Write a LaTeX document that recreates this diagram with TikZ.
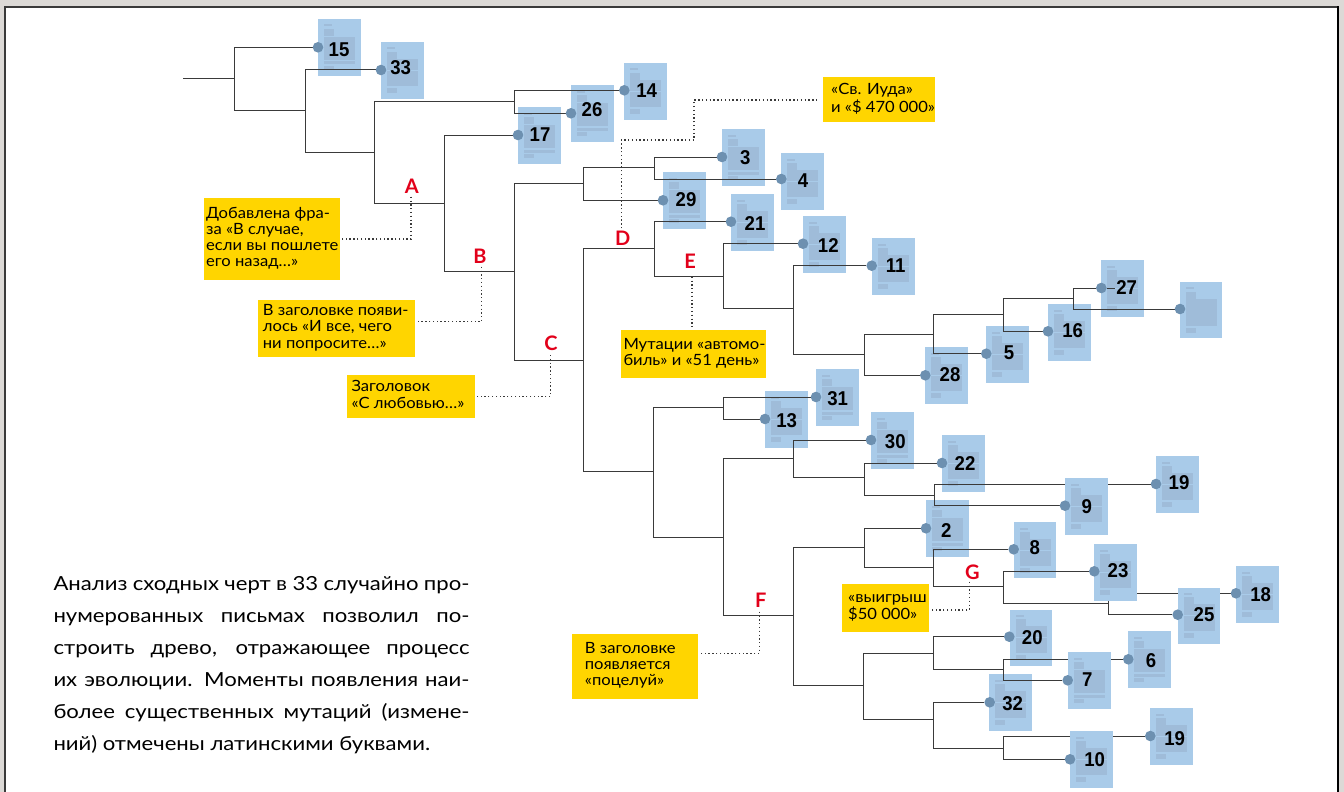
\documentclass[tikz,border=0pt]{standalone}
\usepackage{fontspec}
\setmainfont{Lato}
\newfontfamily\numfont{Liberation Sans}[BoldFont=* Bold,FakeStretch=0.93]
\newfontfamily\wide{Lato}[FakeStretch=1.14]
\newfontfamily\notewide{Lato}[FakeStretch=1.07]
\definecolor{pagebg}{HTML}{DCD9D6}
\definecolor{sheetc}{HTML}{A9CBE9}
\definecolor{innerc}{HTML}{9FBCD9}
\definecolor{dotc}{HTML}{6D90B0}
\definecolor{yell}{HTML}{FFD500}
\definecolor{redc}{HTML}{E2001A}
\definecolor{linec}{HTML}{3A3A3A}
\pgfdeclarelayer{backlayer}
\pgfdeclarelayer{sheets}
\pgfdeclarelayer{hiders}
\pgfdeclarelayer{toplayer}
\pgfsetlayers{backlayer,sheets,main,hiders,toplayer}
\def\sw{43}\def\sh{57}
\tikzset{
  sheet/.style={fill=sheetc,draw=none,inner sep=0,minimum width=\sw pt,minimum height=\sh pt,anchor=north west},
  inn/.style={fill=innerc,draw=none},
  dotn/.style={circle,fill=dotc,draw=none,inner sep=0,minimum size=10.6pt},
  num/.style={inner sep=0,font=\numfont\bfseries\fontsize{20}{20}\selectfont,text=black},
  mut/.style={inner sep=0,font=\bfseries\fontsize{20}{20}\selectfont,text=redc},
  ybox/.style={fill=yell,draw=none,anchor=north west,inner sep=0},
  branch/.style={draw=linec,line width=1pt},
  note/.style={draw=linec,line width=1.3pt,dash pattern=on 1.3pt off 2.5pt},
}
\newcommand\sheetA{%
  \fill[inn] (6,5.5) rectangle (14,7.5);
  \fill[inn] (6,10) rectangle (16,17);
  \fill[inn] (6,18) rectangle (37,41);
  \fill[inn] (6,42.5) rectangle (37,45.5);
  \fill[inn] (6,47) rectangle (16,51);}
\newcommand\sheetC{%
  \fill[inn] (6,5.5) rectangle (14,7.5);
  \fill[inn] (6,10) rectangle (16,17);
  \fill[inn] (6,17) rectangle (37,44);
  \fill[inn] (6,46) rectangle (16,51);}
\newcommand\sheetB{%
  \sheetC
  \fill[sheetc] (6,28) rectangle (37,28.6);}
% id, layer, x0, y0, inner, dot position, label, label position
\newcommand\lettersheet[8]{%
  \begin{pgfonlayer}{#2}
    \node[sheet] (doc#1) at (#3,#4) {};
    \begin{scope}[shift={(doc#1.north west)}]#5\end{scope}
  \end{pgfonlayer}
  \begin{pgfonlayer}{toplayer}
    \node[dotn] (dot#1) at #6 {};
    \if\relax\detokenize{#7}\relax\else\node[num] (num#1) at #8 {#7};\fi
  \end{pgfonlayer}}
% leading, indent, width, lines
\newcommand\notetext[4]{\notewide\fontsize{15.5}{#1}\selectfont\makebox[#3pt][l]{\hspace*{#2pt}\begin{tabular}{@{}l@{}}#4\end{tabular}}}
\begin{document}
\begin{tikzpicture}[x=1pt,y=-1pt]
\useasboundingbox (0,0) rectangle (1344,792);
\begin{pgfonlayer}{backlayer}
  \fill[pagebg] (0,0) rectangle (1344,792);
  \fill[white] (5,7) rectangle (1338,792);
  \fill[linec] (4,6) rectangle (1338,7.6);
  \fill[linec] (4,6) rectangle (5.6,792);
  \fill[black] (1337.4,6) rectangle (1339,792);
\end{pgfonlayer}

% junctions
\coordinate (root) at (183.3,78.3);
\coordinate (n1) at (234.7,78.3);
\coordinate (n2) at (305,110.3);
\coordinate (n3) at (374.3,152);
\coordinate (n4) at (514,101.3);
\coordinate (nA) at (444.3,203);
\coordinate (nB) at (514,271.7);
\coordinate (n5) at (583.7,183.3);
\coordinate (nC) at (583.7,360);
\coordinate (n6) at (654.3,167.3);
\coordinate (nD) at (654,248.7);
\coordinate (n7) at (653.7,471.7);
\coordinate (nE) at (723.7,276.3);
\coordinate (n8) at (793.7,308.7);
\coordinate (n9) at (864,354.3);
\coordinate (n10) at (933.7,334);
\coordinate (n11) at (1003.7,314.7);
\coordinate (n12) at (1073.7,298.3);
\coordinate (n13) at (723.7,407);
\coordinate (n14) at (723.3,537);
\coordinate (n15) at (793.7,458.3);
\coordinate (nF) at (793.7,615.7);
\coordinate (n16) at (864,477.7);
\coordinate (n17) at (934.3,495);
\coordinate (n18) at (864,547.7);
\coordinate (n19) at (863.7,685);
\coordinate (nG) at (933.7,567.3);
\coordinate (n20) at (1003.3,586.7);
\coordinate (n21) at (1108.7,603);
\coordinate (n22) at (933.7,653);
\coordinate (n23) at (933.7,719);
\coordinate (n24) at (1003,669.3);
\coordinate (n25) at (1003.3,748.3);

% letters
\lettersheet{15}{sheets}{318}{19}{\sheetA}{(318,47.3)}{15}{(339,50)}
\lettersheet{33}{sheets}{381}{42}{\sheetB}{(381,70)}{33}{(400.7,68)}
\lettersheet{14}{sheets}{624}{63}{\sheetB}{(624.3,90.3)}{14}{(646.7,90.3)}
\lettersheet{26}{sheets}{571}{85}{\sheetA}{(571,113.3)}{26}{(592,110)}
\lettersheet{17}{sheets}{518}{107}{\sheetA}{(518,135)}{17}{(540,134.3)}
\lettersheet{3}{sheets}{722}{129}{\sheetA}{(722,157)}{3}{(745.3,158)}
\lettersheet{4}{sheets}{781}{153}{\sheetB}{(781.3,179)}{4}{(803,180.7)}
\lettersheet{29}{sheets}{663}{172}{\sheetA}{(663,200.3)}{29}{(686,200)}
\lettersheet{21}{sheets}{731}{194}{\sheetB}{(731,221.7)}{21}{(755,223.3)}
\lettersheet{12}{sheets}{803}{216}{\sheetB}{(803,243.7)}{12}{(828.3,245.3)}
\lettersheet{11}{sheets}{872}{238}{\sheetB}{(871.7,265.7)}{11}{(895.7,265.3)}
\lettersheet{27}{sheets}{1101}{260}{\sheetB}{(1101.3,288)}{27}{(1126.7,287.3)}
\lettersheet{16}{sheets}{1048}{304}{\sheetB}{(1048,331.3)}{16}{(1072.7,330.7)}
\lettersheet{5}{sheets}{986}{326}{\sheetB}{(986.3,353.7)}{5}{(1009,352.7)}
\lettersheet{28}{sheets}{925}{347}{\sheetB}{(925.3,375.3)}{28}{(950,374.7)}
\def\sw{42}\def\sh{56}
\lettersheet{0}{sheets}{1179.5}{281.5}{\sheetC}{(1180,309)}{}{(0,0)}
\def\sw{43}\def\sh{57}
\lettersheet{31}{sheets}{816}{369}{\sheetA}{(816,397)}{31}{(837.7,399)}
\lettersheet{13}{sheets}{765}{391}{\sheetB}{(765,419)}{13}{(786.7,420.3)}
\lettersheet{30}{sheets}{871}{412}{\sheetA}{(871,440)}{30}{(895.3,442)}
\lettersheet{22}{sheets}{942}{435}{\sheetB}{(942,463)}{22}{(965,463.3)}
\lettersheet{19}{sheets}{1156}{456}{\sheetB}{(1156,484)}{19}{(1179,482.3)}
\lettersheet{9}{hiders}{1065}{478}{\sheetB}{(1065,505.7)}{9}{(1086.7,506.7)}
\lettersheet{2}{sheets}{926}{500}{\sheetA}{(926,528.3)}{2}{(946.3,530.7)}
\def\sw{42}\def\sh{56}
\lettersheet{8}{sheets}{1014}{522}{\sheetB}{(1013.7,549.3)}{8}{(1034.7,548)}
\def\sw{43}\def\sh{57}
\lettersheet{23}{hiders}{1094}{544}{\sheetB}{(1094.3,571.3)}{23}{(1118,571)}
\lettersheet{18}{sheets}{1236}{566}{\sheetB}{(1236,593.3)}{18}{(1260.7,594.3)}
\def\sw{42}\def\sh{56}
\lettersheet{25}{hiders}{1178}{587.3}{\sheetB}{(1177.7,614.7)}{25}{(1204,614.3)}
\lettersheet{20}{sheets}{1010}{609.3}{\sheetB}{(1009.3,636.7)}{20}{(1032.3,637.7)}
\def\sw{43}\def\sh{57}
\lettersheet{6}{sheets}{1128}{631}{\sheetA}{(1128.3,659.3)}{6}{(1151,660.3)}
\lettersheet{7}{hiders}{1068}{652}{\sheetA}{(1067.7,680.3)}{7}{(1087.3,679.3)}
\lettersheet{32}{sheets}{989}{674}{\sheetB}{(989.7,702.3)}{32}{(1012.7,704)}
\lettersheet{19b}{sheets}{1150}{708}{\sheetB}{(1150.3,736)}{19}{(1174.7,739)}
\lettersheet{10}{hiders}{1070}{731}{\sheetB}{(1070,759.3)}{10}{(1094.7,759.3)}

% tree
\draw[branch] (root) -- (n1);
\draw[branch] (n1) |- (dot15); \draw[branch] (n1) |- (n2);
\draw[branch] (n2) |- (dot33); \draw[branch] (n2) |- (n3);
\draw[branch] (n3) |- (n4); \draw[branch] (n3) |- (nA);
\draw[branch] (n4) |- (dot14); \draw[branch] (n4) |- (dot26);
\draw[branch] (nA) |- (dot17); \draw[branch] (nA) |- (nB);
\draw[branch] (nB) |- (n5); \draw[branch] (nB) |- (nC);
\draw[branch] (n5) |- (n6); \draw[branch] (n5) |- (dot29);
\draw[branch] (n6) |- (dot3); \draw[branch] (n6) |- (dot4);
\draw[branch] (nC) |- (nD); \draw[branch] (nC) |- (n7);
\draw[branch] (nD) |- (dot21); \draw[branch] (nD) |- (nE);
\draw[branch] (nE) |- (dot12); \draw[branch] (nE) |- (n8);
\draw[branch] (n8) |- (dot11); \draw[branch] (n8) |- (n9);
\draw[branch] (n9) |- (n10); \draw[branch] (n9) |- (dot28);
\draw[branch] (n10) |- (n11); \draw[branch] (n10) |- (dot5);
\draw[branch] (n11) |- (n12); \draw[branch] (n11) |- (dot16);
\draw[branch] (n12) |- (dot27); \draw[branch] (n12) |- (dot0);
\draw[branch] (dot27) -- ++(14,0);
\draw[branch] (n7) |- (n13); \draw[branch] (n7) |- (n14);
\draw[branch] (n13) |- (dot31); \draw[branch] (n13) |- (dot13);
\draw[branch] (n14) |- (n15); \draw[branch] (n14) |- (nF);
\draw[branch] (n15) |- (dot30); \draw[branch] (n15) |- (n16);
\draw[branch] (n16) |- (dot22); \draw[branch] (n16) |- (n17);
\draw[branch] (n17) |- (dot19); \draw[branch] (n17) |- (dot9);
\draw[branch] (nF) |- (n18); \draw[branch] (nF) |- (n19);
\draw[branch] (n18) |- (dot2); \draw[branch] (n18) |- (nG);
\draw[branch] (nG) |- (dot8); \draw[branch] (nG) |- (n20);
\draw[branch] (n20) |- (dot23); \draw[branch] (n20) |- (n21);
\draw[branch] (n21) |- (dot18); \draw[branch] (n21) |- (dot25);
\draw[branch] (n19) |- (n22); \draw[branch] (n19) |- (n23);
\draw[branch] (n22) |- (dot20); \draw[branch] (n22) |- (n24);
\draw[branch] (n24) |- (dot6); \draw[branch] (n24) |- (dot7);
\draw[branch] (n23) |- (dot32); \draw[branch] (n23) |- (n25);
\draw[branch] (n25) |- (dot19b); \draw[branch] (n25) |- (dot10);

% notes
\node[ybox,minimum width=136pt,minimum height=82pt] (boxA) at (204,198)
  {\notetext{16}{2}{136}{Добавлена фра-\\за «В случае,\\если вы пошлете\\его назад…»}};
\node[ybox,minimum width=157pt,minimum height=57pt] (boxB) at (258,300)
  {\notetext{16.3}{4.7}{157}{В заголовке появи-\\лось «И все, чего\\ни попросите…»}};
\node[ybox,minimum width=128pt,minimum height=43pt] (boxC) at (347,375)
  {\notetext{16.3}{4.3}{128}{Заголовок\\«С любовью…»}};
\node[ybox,minimum width=112pt,minimum height=45pt] (boxD) at (823,77)
  {\notetext{18.7}{8}{112}{«Св. Иуда»\\и «\$ 470 000»}};
\node[ybox,minimum width=145pt,minimum height=47.7pt] (boxE) at (621,330)
  {\notetext{16}{2.3}{145}{Мутации «автомо-\\биль» и «51 день»}};
\node[ybox,minimum width=126pt,minimum height=65.7pt] (boxF) at (572,633.3)
  {\notetext{16}{12.7}{126}{В заголовке\\появляется\\«поцелуй»}};
\node[ybox,minimum width=87pt,minimum height=48pt] (boxG) at (842,584)
  {\notetext{15}{6}{87}{«выигрыш\\\$50 000»}};

\node[mut] (letA) at (411.7,186) {A};
\node[mut] (letB) at (480,256) {B};
\node[mut] (letC) at (551,343.3) {C};
\node[mut] (letD) at (622.7,238.3) {D};
\node[mut] (letE) at (690,261.3) {E};
\node[mut] (letF) at (760.7,600) {F};
\node[mut] (letG) at (972.3,572.7) {G};

\coordinate (tipA) at (411,196.7); \coordinate (endA) at (341,239);
\coordinate (tipB) at (481.7,266.7); \coordinate (endB) at (416.7,321.7);
\coordinate (tipC) at (550.3,355); \coordinate (endC) at (477.3,396.7);
\coordinate (tipD) at (621.3,228.3); \coordinate (bendD) at (694,140); \coordinate (endD) at (819.3,100);
\coordinate (tipE) at (692,276.7); \coordinate (endE) at (692,328.3);
\coordinate (tipF) at (759.3,611.7); \coordinate (endF) at (699,653.3);
\coordinate (tipG) at (969.3,581.7); \coordinate (endG) at (931.7,610);
\draw[note] (tipA) |- (endA);
\draw[note] (tipB) |- (endB);
\draw[note] (tipC) |- (endC);
\draw[note] (tipD) |- (bendD) |- (endD);
\draw[note] (tipE) -- (endE);
\draw[note] (tipF) |- (endF);
\draw[note] (tipG) |- (endG);

% caption
\node[anchor=base west,inner sep=0] (caption) at (53.3,750)
 {\wide\fontsize{19.4}{32}\selectfont\vbox{%
  \hbox to 416pt{Анализ сходных черт в 33 случайно про-}
  \hbox to 416pt{нумерованных письмах позволил по-}
  \hbox to 416pt{строить древо, отражающее процесс}
  \hbox to 416pt{их эволюции. Моменты появления наи-}
  \hbox to 416pt{более существенных мутаций (измене-}
  \hbox{ний) отмечены латинскими буквами.}}};
\end{tikzpicture}
\end{document}
